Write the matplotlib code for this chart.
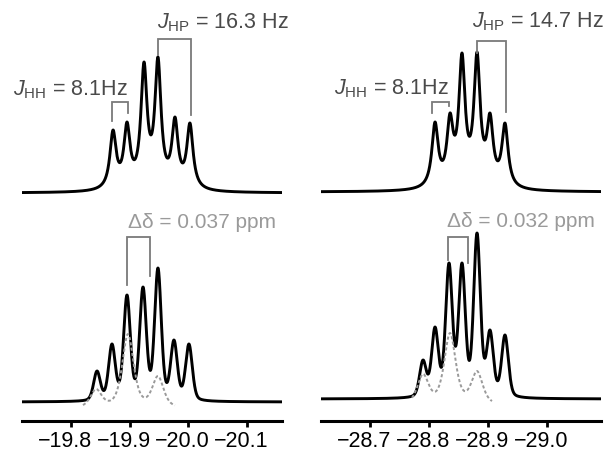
import numpy as np
import matplotlib.pyplot as plt
from matplotlib.transforms import ScaledTranslation

plt.rcParams['font.family'] = ['Liberation Sans', 'DejaVu Sans']
plt.rcParams['mathtext.fontset'] = 'custom'
plt.rcParams['mathtext.rm'] = 'Liberation Sans'
plt.rcParams['mathtext.it'] = 'Liberation Sans:italic'

# ---- data (ppm, peak height above baseline) ----
# left panel, around -19.9 ppm
tl_pos = [-19.8716, -19.8954, -19.9244, -19.9482, -19.9772, -20.0027]
tl_h = [63, 71, 131, 136, 76, 70]
bl_pos = [-19.8443, -19.8698, -19.8954, -19.9227, -19.9482, -19.9755, -20.0010]
bl_h = [31, 58, 107, 115, 134, 62, 58]
dl_pos = [-19.8426, -19.8971, -19.9482]
dl_h = [20, 75, 33]
dl_range = [-19.8204, -19.9772]

# right panel, around -28.85 ppm
tr_pos = [-28.8102, -28.8356, -28.8559, -28.8814, -28.9034, -28.9288]
tr_h = [70, 79, 139, 140, 79, 69]
br_pos = [-28.7898, -28.8102, -28.8339, -28.8559, -28.8814, -28.9034, -28.9288]
br_h = [39, 72, 136, 136, 166, 69, 64]
dr_pos = [-28.7898, -28.8356, -28.8814]
dr_h = [32, 73, 35]
dr_range = [-28.7712, -28.9068]

left_ticks = [-19.8, -19.9, -20.0, -20.1]
left_ticklabels = ['\u221219.8', '\u221219.9', '\u221220.0', '\u221220.1']
right_ticks = [-28.7, -28.8, -28.9, -29.0]
right_ticklabels = ['\u221228.7', '\u221228.8', '\u221228.9', '\u221229.0']


def pvoigt(dx, fwhm, eta):
    g = np.exp(-4 * np.log(2) * (dx / fwhm) ** 2)
    l = 1.0 / (1.0 + (2 * dx / fwhm) ** 2)
    return eta * l + (1 - eta) * g


def spectrum(x, pos, h, fwhm, eta):
    pos = np.asarray(pos, float)
    A = pvoigt(pos[:, None] - pos[None, :], fwhm, eta)
    amps = np.linalg.solve(A, np.asarray(h, float))
    return sum(a * pvoigt(x - p, fwhm, eta) for a, p in zip(amps, pos))


def bracket(ax, x1, x2, ytop, y1, y2, color):
    ax.plot([x1, x1, x2, x2], [y1, ytop, ytop, y2], color=color, lw=1.3,
            solid_joinstyle='miter', clip_on=False)


fig = plt.figure(figsize=(6.08, 4.54), dpi=100)
axl = fig.add_axes([22 / 608, 33 / 454, 260 / 608, 421 / 454])
axr = fig.add_axes([321 / 608, 33 / 454, 280 / 608, 421 / 454])

xl = np.linspace(-19.7165, -20.1596, 3000)
xr = np.linspace(-28.617, -29.0915, 3000)

top_w, top_eta = 0.0128, 1.0
bot_w, bot_eta = 0.0135, 0.3
dot_w, dot_eta = 0.0230, 0.6

# left
axl.plot(xl, 228 + spectrum(xl, tl_pos, tl_h, top_w, top_eta), color='black', lw=2.1)
axl.plot(xl, 19 + spectrum(xl, bl_pos, bl_h, bot_w, bot_eta), color='black', lw=2.1)
xd = np.linspace(dl_range[0], dl_range[1], 400)
axl.plot(xd, 12 + spectrum(xd, dl_pos, dl_h, dot_w, dot_eta), color='#9a9a9a', lw=1.4,
         ls=(0, (1.6, 1.2)))

# right
axr.plot(xr, 229 + spectrum(xr, tr_pos, tr_h, top_w, top_eta), color='black', lw=2.1)
axr.plot(xr, 22 + spectrum(xr, br_pos, br_h, bot_w, bot_eta), color='black', lw=2.1)
xd = np.linspace(dr_range[0], dr_range[1], 400)
axr.plot(xd, 15 + spectrum(xd, dr_pos, dr_h, dot_w, dot_eta), color='#9a9a9a', lw=1.4,
         ls=(0, (1.6, 1.2)))

jc = '#4a4a4a'
bc = '#7a7a7a'
dc = '#9a9a9a'
fs = 15.5

# left annotations
axl.text(-19.8971, 326, r'$\it{J}_{\rm HH}$ = 8.1Hz', ha='right', va='baseline',
         color=jc, fontsize=fs, clip_on=False)
bracket(axl, -19.8698, -19.8971, 319, 300, 308, bc)
axl.text(-19.9465, 393, r'$\it{J}_{\rm HP}$ = 16.3 Hz', ha='left', va='baseline',
         color=jc, fontsize=fs, clip_on=False)
bracket(axl, -19.9482, -20.0044, 382, 366, 306, bc)
axl.text(-19.8971, 193, '\u0394\u03b4 = 0.037 ppm', ha='left', va='baseline',
         color=dc, fontsize=15, clip_on=False)
bracket(axl, -19.8954, -19.9346, 184, 136, 145, bc)

# right annotations
axr.text(-28.8339, 327, r'$\it{J}_{\rm HH}$ = 8.1Hz', ha='right', va='baseline',
         color=jc, fontsize=fs, clip_on=False)
bracket(axr, -28.8051, -28.8339, 319, 308, 315, bc)
axr.text(-28.8729, 394, r'$\it{J}_{\rm HP}$ = 14.7 Hz', ha='left', va='baseline',
         color=jc, fontsize=fs, clip_on=False)
bracket(axr, -28.8814, -28.9305, 380, 368, 309, bc)
axr.text(-28.8305, 194, '\u0394\u03b4 = 0.032 ppm', ha='left', va='baseline',
         color=dc, fontsize=15, clip_on=False)
bracket(axr, -28.8322, -28.8661, 184, 161, 158, bc)

shift = ScaledTranslation(-0.06, 0, fig.dpi_scale_trans)
for ax, lim, ticks, labels in [(axl, (-19.7165, -20.1596), left_ticks, left_ticklabels),
                               (axr, (-28.617, -29.0915), right_ticks, right_ticklabels)]:
    ax.set_xlim(*lim)
    ax.set_ylim(0, 421)
    for s in ['left', 'right', 'top']:
        ax.spines[s].set_visible(False)
    ax.spines['bottom'].set_linewidth(2.2)
    ax.set_yticks([])
    ax.set_xticks(ticks)
    ax.set_xticklabels(labels)
    ax.tick_params(axis='x', direction='out', length=4.5, width=2.0, pad=2.5,
                   labelsize=15.5)
    for lab in ax.get_xticklabels():
        lab.set_transform(lab.get_transform() + shift)

fig.savefig('out.png', dpi=100)
